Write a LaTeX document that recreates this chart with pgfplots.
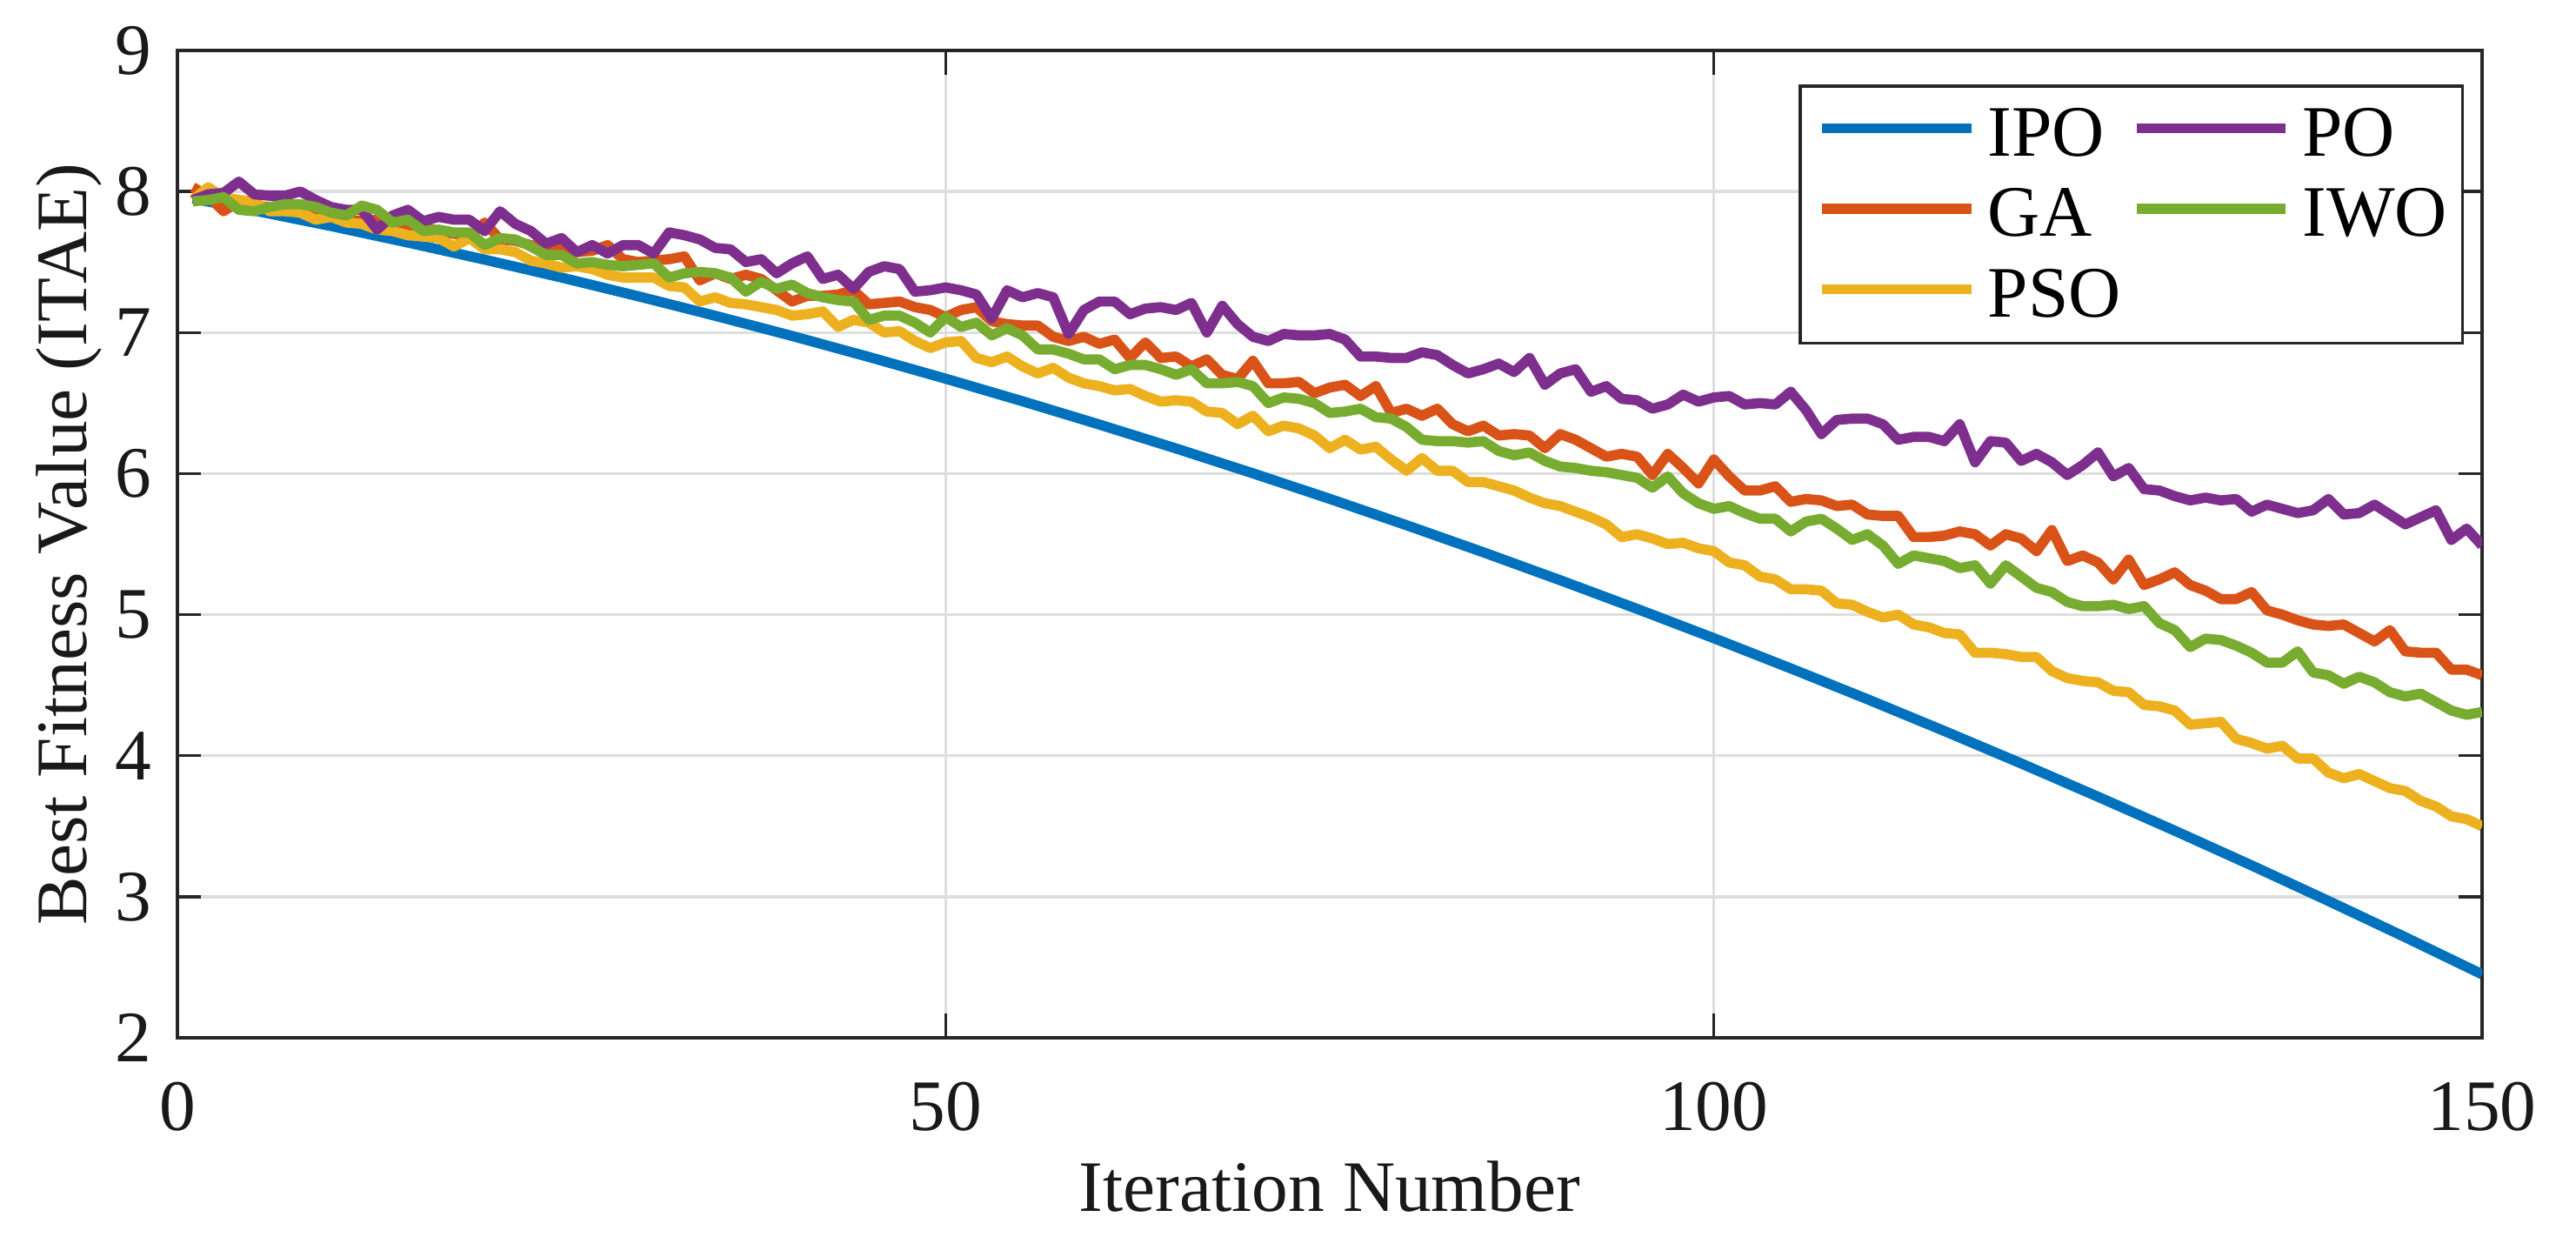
\documentclass[border=0pt]{standalone}
\usepackage{fontspec}
\setmainfont{Liberation Serif}
\usepackage{pgfplots}
\usepackage{pgfplotstable}
\pgfplotsset{compat=1.18}
\definecolor{mblue}{rgb}{0,0.447,0.741}
\definecolor{morange}{rgb}{0.850,0.325,0.098}
\definecolor{myellow}{rgb}{0.929,0.694,0.125}
\definecolor{mpurple}{rgb}{0.494,0.184,0.556}
\definecolor{mgreen}{rgb}{0.466,0.674,0.188}

\pgfplotstableread{
x ga pso po iwo
1 8.03 7.94 7.94 7.93
2 7.97 8.03 7.98 7.94
3 7.86 7.96 7.99 7.96
4 7.93 7.94 8.07 7.87
5 7.90 7.93 7.98 7.86
6 7.89 7.86 7.97 7.89
7 7.88 7.86 7.97 7.91
8 7.86 7.85 8.00 7.91
9 7.85 7.80 7.94 7.89
10 7.84 7.82 7.89 7.85
11 7.80 7.78 7.87 7.83
12 7.79 7.77 7.87 7.90
13 7.80 7.73 7.73 7.87
14 7.76 7.72 7.83 7.78
15 7.74 7.69 7.87 7.80
16 7.75 7.68 7.79 7.72
17 7.72 7.67 7.82 7.73
18 7.70 7.61 7.80 7.71
19 7.68 7.67 7.80 7.71
20 7.78 7.59 7.72 7.62
21 7.66 7.59 7.86 7.67
22 7.65 7.57 7.77 7.66
23 7.62 7.51 7.72 7.61
24 7.60 7.49 7.63 7.55
25 7.60 7.46 7.67 7.55
26 7.57 7.47 7.57 7.49
27 7.58 7.45 7.62 7.50
28 7.62 7.41 7.56 7.48
29 7.52 7.39 7.62 7.47
30 7.50 7.39 7.62 7.48
31 7.51 7.39 7.56 7.49
32 7.52 7.33 7.71 7.39
33 7.54 7.32 7.69 7.42
34 7.37 7.22 7.66 7.43
35 7.42 7.25 7.60 7.42
36 7.38 7.21 7.59 7.39
37 7.41 7.20 7.50 7.29
38 7.38 7.18 7.52 7.36
39 7.30 7.16 7.42 7.31
40 7.22 7.12 7.49 7.34
41 7.26 7.13 7.54 7.28
42 7.26 7.15 7.38 7.25
43 7.27 7.04 7.41 7.23
44 7.30 7.09 7.31 7.22
45 7.20 7.07 7.43 7.09
46 7.21 7.00 7.47 7.12
47 7.22 7.01 7.45 7.12
48 7.18 6.94 7.29 7.07
49 7.16 6.89 7.30 7.00
50 7.11 6.93 7.32 7.11
51 7.16 6.94 7.30 7.04
52 7.18 6.82 7.27 7.07
53 7.08 6.79 7.10 6.98
54 7.06 6.83 7.30 7.03
55 7.05 6.76 7.25 6.98
56 7.05 6.71 7.28 6.88
57 6.97 6.75 7.25 6.88
58 6.94 6.68 6.99 6.85
59 6.97 6.64 7.16 6.81
60 6.92 6.62 7.22 6.81
61 6.95 6.59 7.22 6.74
62 6.82 6.60 7.13 6.77
63 6.93 6.55 7.17 6.77
64 6.82 6.51 7.18 6.74
65 6.83 6.52 7.16 6.70
66 6.76 6.51 7.21 6.74
67 6.81 6.44 7.00 6.64
68 6.70 6.43 7.19 6.64
69 6.67 6.35 7.06 6.65
70 6.80 6.41 6.97 6.62
71 6.64 6.30 6.94 6.50
72 6.64 6.34 6.99 6.54
73 6.65 6.32 6.98 6.53
74 6.57 6.27 6.98 6.50
75 6.61 6.18 6.99 6.43
76 6.63 6.24 6.95 6.44
77 6.55 6.17 6.83 6.46
78 6.62 6.19 6.83 6.40
79 6.43 6.10 6.82 6.39
80 6.46 6.02 6.82 6.33
81 6.41 6.11 6.86 6.24
82 6.46 6.02 6.84 6.23
83 6.35 6.02 6.77 6.23
84 6.30 5.94 6.71 6.22
85 6.34 5.94 6.74 6.23
86 6.27 5.91 6.78 6.16
87 6.28 5.88 6.72 6.13
88 6.27 5.83 6.82 6.15
89 6.18 5.79 6.63 6.09
90 6.28 5.77 6.71 6.05
91 6.24 5.73 6.74 6.04
92 6.18 5.69 6.58 6.02
93 6.12 5.64 6.62 6.01
94 6.14 5.55 6.53 5.99
95 6.12 5.57 6.52 5.97
96 5.99 5.54 6.46 5.90
97 6.14 5.50 6.49 5.98
98 6.04 5.51 6.56 5.86
99 5.93 5.47 6.51 5.79
100 6.10 5.45 6.54 5.75
101 5.98 5.37 6.55 5.77
102 5.88 5.35 6.49 5.72
103 5.88 5.27 6.50 5.68
104 5.91 5.25 6.49 5.68
105 5.80 5.18 6.58 5.59
106 5.82 5.18 6.45 5.66
107 5.81 5.17 6.28 5.68
108 5.77 5.08 6.38 5.61
109 5.78 5.07 6.39 5.53
110 5.71 5.02 6.39 5.57
111 5.70 4.98 6.35 5.49
112 5.70 5.00 6.24 5.36
113 5.55 4.93 6.26 5.42
114 5.55 4.91 6.26 5.40
115 5.56 4.87 6.23 5.38
116 5.59 4.86 6.35 5.33
117 5.57 4.73 6.08 5.35
118 5.49 4.73 6.23 5.22
119 5.57 4.72 6.22 5.35
120 5.54 4.70 6.09 5.27
121 5.45 4.70 6.14 5.19
122 5.60 4.60 6.08 5.16
123 5.38 4.55 5.99 5.09
124 5.42 4.53 6.06 5.06
125 5.37 4.52 6.15 5.06
126 5.25 4.46 5.98 5.07
127 5.39 4.45 6.04 5.04
128 5.21 4.36 5.89 5.06
129 5.25 4.35 5.88 4.94
130 5.30 4.32 5.84 4.89
131 5.21 4.22 5.81 4.77
132 5.17 4.23 5.83 4.83
133 5.11 4.24 5.81 4.82
134 5.11 4.12 5.82 4.78
135 5.16 4.09 5.73 4.73
136 5.03 4.05 5.78 4.66
137 5.00 4.07 5.75 4.66
138 4.96 3.98 5.72 4.74
139 4.93 3.98 5.74 4.59
140 4.92 3.88 5.82 4.57
141 4.93 3.84 5.71 4.51
142 4.87 3.87 5.72 4.56
143 4.81 3.82 5.78 4.52
144 4.89 3.77 5.71 4.45
145 4.74 3.75 5.64 4.42
146 4.73 3.68 5.69 4.44
147 4.73 3.64 5.74 4.38
148 4.61 3.57 5.53 4.32
149 4.61 3.55 5.61 4.29
150 4.57 3.50 5.49 4.31
}\conv

\pgfplotstableread{
x ipo
1 7.950
5 7.865
10 7.755
15 7.638
20 7.517
25 7.390
30 7.257
35 7.119
40 6.976
45 6.827
50 6.673
55 6.513
60 6.348
65 6.178
70 6.002
75 5.821
80 5.634
85 5.442
90 5.244
95 5.041
100 4.833
105 4.619
110 4.400
115 4.175
120 3.945
125 3.709
130 3.468
135 3.222
140 2.970
145 2.713
150 2.450
}\ipo

\begin{document}
\begin{tikzpicture}
\begin{axis}[
  name=ax,
  scale only axis,
  width=318pt, height=136.2pt,
  xmin=0, xmax=150, ymin=2, ymax=9,
  xtick={0,50,100,150}, ytick={2,3,4,5,6,7,8,9},
  grid=major,
  grid style={line width=0.4pt, color=black!13},
  tick align=inside, tick pos=both,
  major tick length=3.3pt,
  axis line style={black!85, line width=0.4pt},
  tick style={black!85, line width=0.4pt},
  /pgf/number format/assume math mode=true,
  ticklabel style={font=\normalsize, text=black!90},
  xticklabel style={yshift=-2.6pt},
  xlabel={Iteration Number},
  ylabel={Best Fitness Value (ITAE)},
  label style={font=\normalsize, text=black!90},
  xlabel style={at={(axis description cs:0.5,-0.1762)}, anchor=base},
  ylabel style={at={(axis description cs:-0.03925,0.5)}, anchor=base},
  legend columns=2,
  legend cell align=left,
  legend style={at={(axis description cs:1,1)}, anchor=north east,
    xshift=-2.5pt, yshift=-4.7pt, draw=black!85, line width=0.4pt, fill=white,
    inner xsep=2.3pt, inner ysep=2.95pt, row sep=3.7pt, column sep=0pt,
    font=\normalsize,
    nodes={inner sep=0pt, text height=6.7pt, text depth=0pt, text width=19.8pt, align=left, anchor=base west}},
  legend image code/.code={\draw[#1] (0pt,3.8pt) -- (20.6pt,3.8pt); \path (0pt,0pt) (22.2pt,0pt);},
  every axis plot/.append style={line width=1.4pt, line join=round},
]
\addlegendimage{mblue, line width=1.4pt}\addlegendentry{IPO}
\addlegendimage{mpurple, line width=1.4pt}\addlegendentry{PO}
\addlegendimage{morange, line width=1.4pt}\addlegendentry{GA}
\addlegendimage{mgreen, line width=1.4pt}\addlegendentry{IWO}
\addlegendimage{myellow, line width=1.4pt}\addlegendentry{PSO}
\addplot[mblue, forget plot] table[x=x, y=ipo] {\ipo};
\addplot[morange, forget plot] table[x=x, y=ga] {\conv};
\addplot[myellow, forget plot] table[x=x, y=pso] {\conv};
\addplot[mpurple, forget plot] table[x=x, y=po] {\conv};
\addplot[mgreen, forget plot] table[x=x, y=iwo] {\conv};
\end{axis}
\pgfresetboundingbox
\path[use as bounding box] (ax.south west) ++(-24.48pt,-27.48pt) rectangle ++(355.44pt,170.64pt);
\end{tikzpicture}
\end{document}
